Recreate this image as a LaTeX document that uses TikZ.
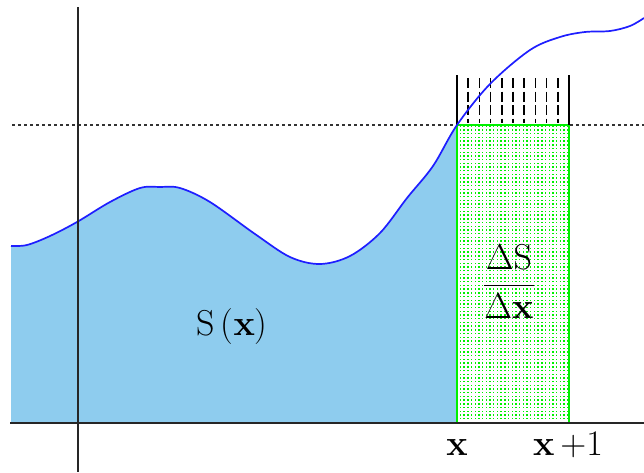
\RequirePackage{fix-cm}
\documentclass[tikz,border=0pt]{standalone}
\usetikzlibrary{patterns}
\definecolor{areablue}{RGB}{142,204,238}
\definecolor{curveblue}{RGB}{30,30,255}
\definecolor{rectgreen}{RGB}{0,240,0}
\pgfdeclarepatternformonly{gdots}{\pgfqpoint{-0.1pt}{-0.1pt}}{\pgfqpoint{3.8pt}{3.8pt}}{\pgfqpoint{3.7pt}{3.7pt}}{\pgfpathrectangle{\pgfqpoint{0.9pt}{0.9pt}}{\pgfqpoint{1.4pt}{1.4pt}}\pgfusepath{fill}}
\tikzset{
  axisline/.style={line width=2pt, black!85},
  curveline/.style={line width=1.7pt, curveblue},
  guideline/.style={line width=1.3pt, black!80, dash pattern=on 3pt off 3pt},
  hatchsolid/.style={line width=1.5pt, black},
  hatchdash/.style={line width=1.5pt, black, dash pattern=on 10pt off 3.5pt},
  lbl/.style={inner sep=0pt, font=\fontsize{36}{40}\selectfont},
}
\begin{document}
\begin{tikzpicture}[x=1pt,y=-1pt]
\useasboundingbox (0,0) rectangle (644,472);
\def\curvepts{(11,246) (27,245) (50,236) (77,222) (110,202) (140,188) (160,187) (180,188) (210,202) (255,234) (290,257) (320,264) (350,256) (380,233) (407,198) (433,166) (457,125) (490,84) (530,50) (560,37) (585,32) (610,31) (630,26) (644,18)}
% blue area
\begin{scope}
  \clip (11,0) rectangle (457,423);
  \fill[areablue] plot[smooth,tension=0.55] coordinates {\curvepts} -- (644,423) -- (11,423) -- cycle;
\end{scope}
% dotted guide
\coordinate (gl) at (12,125);
\coordinate (gr) at (644,125);
\draw[guideline] (gl) -- (gr);
% green rectangle
\coordinate (ra) at (457,125);
\coordinate (rb) at (569,423);
\fill[white] (ra) rectangle (rb);
\fill[pattern=gdots, pattern color=rectgreen] (ra) rectangle (rb);
\draw[line width=2pt, rectgreen] (ra) rectangle (rb);
% hatch lines above
\coordinate (h0t) at (457,75);
\coordinate (h1t) at (569,75);
\draw[hatchsolid] (h0t) -- (ra);
\draw[hatchsolid] (h1t) -- (569,125);
\foreach \k in {1,...,9} {
  \draw[hatchdash] ({457+11.2*\k},78) -- ({457+11.2*\k},123);
}
% curve
\draw[curveline] plot[smooth,tension=0.55] coordinates {\curvepts};
% axes
\coordinate (xl) at (10,423);
\coordinate (xr) at (644,423);
\coordinate (yt) at (77.5,7);
\coordinate (yb) at (77.5,472);
\draw[axisline] (xl) -- (xr);
\draw[axisline] (yt) -- (yb);
% labels
\node[lbl] (sx) at (232,327) {S\,($\mathbf{x}$)};
\node[lbl] (frac) at (509,282) {$\displaystyle\frac{\Delta\mathrm{S}}{\Delta\mathbf{x}}$};
\node[lbl, anchor=base] (xa) at (457,455) {$\mathbf{x}$};
\node[lbl, anchor=base] (xb) at (568,455) {$\mathbf{x}\,{+}1$};
\end{tikzpicture}
\end{document}
